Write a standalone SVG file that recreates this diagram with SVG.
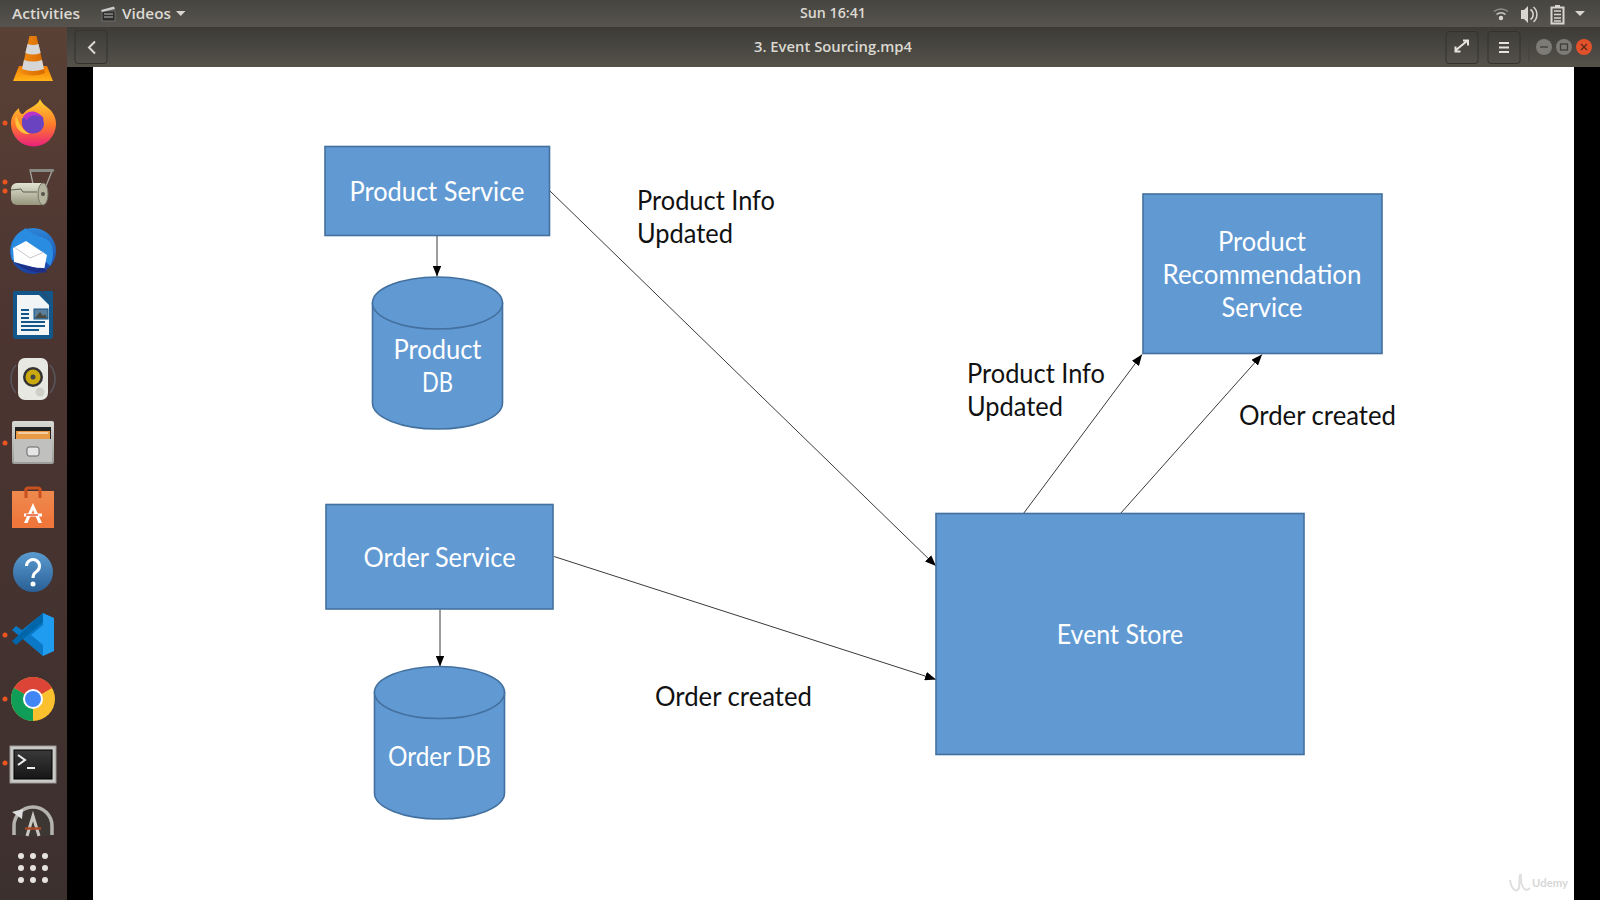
<svg xmlns="http://www.w3.org/2000/svg" width="1600" height="900" viewBox="0 0 1600 900">
<defs>
<style>
.box{fill:#6199d3;stroke:#43719f;stroke-width:1.600}
.in{font-family:Lato,"Liberation Sans",sans-serif;font-size:27px;fill:#fff;text-anchor:middle}
.lbl{font-family:Lato,"Liberation Sans",sans-serif;font-size:27px;fill:#111}
.c{fill:none;stroke:#3a3a3a;stroke-width:1}
.ui{font-family:"Open Sans","Liberation Sans",sans-serif;font-size:14px;font-weight:600;fill:#dcd9d2}
.btn{fill:none;stroke:#33322e;stroke-width:1}
.dot{fill:#e95420}
.g{fill:#e6e3dc}
</style>
<marker id="ah" markerUnits="userSpaceOnUse" viewBox="0 0 10 8" refX="10" refY="4" markerWidth="11" markerHeight="8.800" orient="auto"><path d="M0 0L10 4L0 8z" fill="#000"/></marker>
<linearGradient id="top" x1="0" y1="0" x2="0" y2="1"><stop offset="0" stop-color="#46453f"/><stop offset="1" stop-color="#575450"/></linearGradient>
<linearGradient id="tb" x1="0" y1="0" x2="0" y2="1"><stop offset="0" stop-color="#3c3b37"/><stop offset="1" stop-color="#55524b"/></linearGradient>
<linearGradient id="dock" x1="0" y1="0" x2="0" y2="1"><stop offset="0" stop-color="#5a4136"/><stop offset=".35" stop-color="#4c3531"/><stop offset="1" stop-color="#3c302e"/></linearGradient>
<linearGradient id="cone" x1="0" y1="0" x2="1" y2="0"><stop offset="0" stop-color="#ef8a12"/><stop offset="1" stop-color="#d96a00"/></linearGradient>
<linearGradient id="base" x1="0" y1="0" x2="0" y2="1"><stop offset="0" stop-color="#f47c00"/><stop offset="1" stop-color="#ffb31a"/></linearGradient>
<linearGradient id="fx" x1="0" y1="0" x2="0" y2="1"><stop offset="0" stop-color="#ffd22e"/><stop offset=".55" stop-color="#ff7a2a"/><stop offset="1" stop-color="#ea1f7d"/></linearGradient>
<linearGradient id="tbd" x1="0" y1="0" x2="0" y2="1"><stop offset="0" stop-color="#2b86d8"/><stop offset="1" stop-color="#1c3f9e"/></linearGradient>
<linearGradient id="metal" x1="0" y1="0" x2="0" y2="1"><stop offset="0" stop-color="#d8d8d4"/><stop offset="1" stop-color="#9b9b97"/></linearGradient>
<linearGradient id="roll" x1="0" y1="0" x2="0" y2="1"><stop offset="0" stop-color="#e4e4d4"/><stop offset="1" stop-color="#96967e"/></linearGradient>
<linearGradient id="bag" x1="0" y1="0" x2="0" y2="1"><stop offset="0" stop-color="#ee8a4e"/><stop offset="1" stop-color="#f0743a"/></linearGradient>
<linearGradient id="help" x1="0" y1="0" x2="0" y2="1"><stop offset="0" stop-color="#5a9bd0"/><stop offset="1" stop-color="#2a6096"/></linearGradient>
<linearGradient id="term" x1="0" y1="0" x2="0" y2="1"><stop offset="0" stop-color="#3a3a3a"/><stop offset="1" stop-color="#161616"/></linearGradient>
</defs>

<rect width="1600" height="900" fill="#000"/>
<rect x="93" y="67" width="1481" height="833" fill="#fff"/>

<g id="top-bar">
<rect width="1600" height="27" fill="url(#top)"/>
<text class="ui" x="12" y="19" textLength="68" lengthAdjust="spacingAndGlyphs">Activities</text>
<g id="clapper"><rect x="102" y="11" width="13" height="10" fill="#2e2e2c" stroke="#888" stroke-width=".6"/><path d="M101 10L114 6.500L115 9L102 12z" fill="#ccc"/><path d="M104 14h9M104 17h9" stroke="#bbb" stroke-width="1"/></g>
<text class="ui" x="122" y="19" textLength="49" lengthAdjust="spacingAndGlyphs">Videos</text>
<path d="M176 11h9.500l-4.750 5z" fill="#d8d5ce"/>
<text class="ui" x="833" y="18" text-anchor="middle" textLength="66" lengthAdjust="spacingAndGlyphs">Sun 16:41</text>
<g id="wifi" fill="none" stroke="#c9c6bf" stroke-width="1.600"><path d="M1494 11.500a11 11 0 0 1 14 0" opacity=".55"/><path d="M1496.500 14.500a7 7 0 0 1 9 0"/></g><circle cx="1501" cy="18" r="2.200" fill="#d8d5ce"/>
<g id="volume"><path d="M1521 10h3l4-4v17l-4-4h-3z" fill="#d8d5ce"/><path d="M1530.500 9.500a6 6 0 0 1 0 10M1533.500 7a10 10 0 0 1 0 15" fill="none" stroke="#d8d5ce" stroke-width="1.500"/></g>
<g id="battery"><rect x="1551.500" y="7.500" width="12" height="16" fill="none" stroke="#d8d5ce" stroke-width="2"/><rect x="1555" y="5" width="5" height="2.500" fill="#d8d5ce"/><path d="M1554 11h7M1554 14.500h7M1554 18h7M1554 21h7" stroke="#d8d5ce" stroke-width="1.500"/></g>
<path d="M1575 11h10l-5 5z" fill="#d8d5ce"/>
</g>

<g id="title-bar">
<rect x="67" y="27" width="1533" height="40" fill="url(#tb)"/>
<rect class="btn" x="75" y="30.500" width="32" height="33" rx="3"/>
<path d="M95 41.500L89 47.500L95 53.500" fill="none" stroke="#dcd9d2" stroke-width="2"/>
<text class="ui" x="833" y="52" text-anchor="middle" textLength="158" lengthAdjust="spacingAndGlyphs">3. Event Sourcing.mp4</text>
<rect class="btn" x="1446" y="31.500" width="32" height="32" rx="3"/>
<path d="M1456 50L1467 41M1463 40.500h5v5M1455.500 46.500v5h5" fill="none" stroke="#e6e3dc" stroke-width="2"/>
<rect class="btn" x="1488" y="31.500" width="32" height="32" rx="3"/>
<path class="g" d="M1499 42h10v2h-10zM1499 46.500h10v2h-10zM1499 51h10v2h-10z"/>
<path d="M1529 33v28" stroke="#45433e" stroke-width="1"/>
<circle cx="1544" cy="47" r="8" fill="#7d7b75"/><path d="M1540 47h8" stroke="#3f3e3a" stroke-width="1.300"/>
<circle cx="1564" cy="47" r="8" fill="#7d7b75"/><rect x="1560.500" y="44" width="7" height="6" fill="none" stroke="#3f3e3a" stroke-width="1.300"/>
<circle cx="1584" cy="47" r="8" fill="#e2512a"/><path d="M1581 44l6 6M1587 44l-6 6" stroke="#5a2a18" stroke-width="1.300"/>
</g>

<g id="dock">
<rect y="27" width="67" height="873" fill="url(#dock)"/>
<g id="app-vlc"><path d="M13 81L19 66H47L53 81z" fill="url(#base)"/><path d="M29.500 36h7L45 73q-12 5-24 0z" fill="url(#cone)"/><path d="M27.500 44q5.500 2 11 0l2.200 9q-7.700 3-15.400 0zM24 60q9 3 18 0l2 9q-11 4-22 0z" fill="#d6d6d6"/></g>
<g id="app-firefox"><path d="M40 99C42 105 50 108 52 112C55 116 56 120 56 124A22 22 0 1 1 11 124C11 118 13 113 19 108C19 112 21 114 23 114C27 108 38 106 40 99z" fill="url(#fx)"/><path d="M22 119C27 112 36 111 43 117L44 124A11 10.500 0 0 1 22 122z" fill="#6a43c0"/><path d="M23 117C28 109 38 110 43 118C38 114 30 114 27 120z" fill="#b833c8"/><path d="M16 116C20 124 22 130 30 134C20 135 13 126 16 116z" fill="#ffc23a"/></g>
<circle class="dot" cx="5" cy="123" r="2.500"/>
<g id="app-archive"><path d="M33 184L30 170L52 171L46 186" fill="none" stroke="#a5a5a0" stroke-width="1.300"/><rect x="30" y="169" width="24" height="3" rx="1" fill="#8a8a85"/><rect x="11" y="183" width="36" height="22" rx="6" fill="url(#roll)"/><path d="M11 190l10-1 2 3h14" fill="none" stroke="#5f5f50" stroke-width="1"/><ellipse cx="43" cy="194" rx="5" ry="11" fill="#b5b59f" stroke="#77776a"/><circle cx="43" cy="194" r="2" fill="#55554a"/></g>
<circle class="dot" cx="5" cy="182" r="2.500"/><circle class="dot" cx="5" cy="191" r="2.500"/>
<g id="app-thunderbird"><circle cx="33" cy="251" r="23" fill="url(#tbd)"/><path d="M26 228C30 236 46 236 50 242C54 248 54 260 50 266C46 260 40 260 33 258L12 260C9 250 11 236 26 228z" fill="#2a8ce0"/><path d="M13 248L26 241L47 255L44 270L14 262z" fill="#fff"/><path d="M14 247L30 258L44 252" fill="none" stroke="#c8c8d0" stroke-width="1"/><path d="M14 262C24 270 36 274 47 272L44 268C34 268 24 266 14 262z" fill="#1e2f88"/></g>
<g id="app-writer"><path d="M15 291H41L53 303V336a3 3 0 0 1-3 3H16a3 3 0 0 1-3-3V293a2 2 0 0 1 2-2z" fill="#13578a"/><path d="M17 295H39L49 305V335H17z" fill="#f2f5f6"/><path d="M42 291h11v12z" fill="#13578a"/><rect x="34" y="309" width="14" height="10" fill="#5c7f9c" stroke="#13578a"/><path d="M35 318L40 312L43 316L45 314L47 318z" fill="#4a4a40"/><path d="M21 310h8M21 314h8M21 318h8M21 322h24M21 326h24M21 330h18" stroke="#13578a" stroke-width="2"/></g>
<g id="app-rhythmbox"><path d="M16 365a22 22 0 0 0 0 28M50 365a22 22 0 0 1 0 28" fill="none" stroke="#66788a" stroke-width="1.500" opacity=".5"/><rect x="18" y="358" width="30" height="42" rx="7" fill="#e8e8e2"/><circle cx="33" cy="377" r="10" fill="#333"/><circle cx="33" cy="377" r="7.500" fill="#c9a90f"/><circle cx="33" cy="377" r="2.500" fill="#444"/><circle cx="40" cy="392" r="4.500" fill="#cfcfc8"/></g>
<g id="app-files"><rect x="12" y="421" width="42" height="43" rx="2" fill="url(#metal)"/><rect x="15" y="427" width="36" height="12" fill="#222"/><rect x="16" y="431" width="34" height="8" fill="#e89a45"/><path d="M18 433h30" stroke="#fff" stroke-width="1"/><rect x="14" y="439" width="38" height="23" fill="#c0c0be"/><rect x="27" y="447" width="12" height="9" rx="2" fill="#e6e6e6" stroke="#666"/></g>
<circle class="dot" cx="5" cy="443" r="2.500"/>
<g id="app-software"><rect x="12" y="491" width="42" height="37" fill="url(#bag)"/><rect x="12" y="518" width="42" height="10" fill="#f0773c"/><path d="M26 498v-7a2 2 0 0 1 2-3h10a2 2 0 0 1 2 3v7" fill="none" stroke="#c9501f" stroke-width="3"/><path d="M24 523L33 503L42 523h-3.500L33 510L27.500 523z" fill="#fff"/><path d="M24 515h18" stroke="#fff" stroke-width="3"/><path d="M26 515h12" stroke="#e8562a" stroke-width="1.500"/></g>
<g id="app-help"><circle cx="33" cy="572" r="20" fill="url(#help)"/><path d="M26.500 566a6.500 6.500 0 1 1 10 5.500C34 573 33 575 33 578" fill="none" stroke="#fff" stroke-width="3"/><circle cx="33" cy="584" r="2.500" fill="#fff"/></g>
<g id="app-vscode"><path d="M43 613L54 618V651L43 656L22 636z" fill="#1f9cf0"/><path d="M43 613V625L31 635L43 645V656L12 630L16 626L22 630z" fill="#0a78c4"/><path d="M12 641L16 645L43 622V613z" fill="#0065a9"/></g>
<circle class="dot" cx="5" cy="635" r="2.500"/>
<g id="app-chrome"><circle cx="33" cy="699" r="22" fill="#fbc02d"/><path d="M33 699L14 688A22 22 0 0 1 52 688z" fill="#db4437"/><path d="M33 699L14 688A22 22 0 0 0 33 721z" fill="#0f9d58"/><circle cx="33" cy="699" r="10" fill="#fff"/><circle cx="33" cy="699" r="8" fill="#4285f4"/></g>
<circle class="dot" cx="5" cy="699" r="2.500"/>
<g id="app-terminal"><rect x="10" y="746" width="46" height="37" fill="#c9c9c5" stroke="#999"/><rect x="14" y="750" width="38" height="29" fill="url(#term)" stroke="#000"/><path d="M18 755L25 760L18 765" fill="none" stroke="#eee" stroke-width="2"/><path d="M27 768h8" stroke="#eee" stroke-width="2"/></g>
<circle class="dot" cx="5" cy="763" r="2.500"/>
<g id="app-updater"><path d="M14 836V826A19 19 0 0 1 52 826V836z" fill="#3d3734"/><path d="M14 835V826A19 19 0 0 1 52 826V835" fill="none" stroke="#b5b3ae" stroke-width="3.500"/><path d="M12 812l11-3-1 10z" fill="#ddd"/><path d="M27 836L33 816L39 836" fill="none" stroke="#c9c7c2" stroke-width="3"/><path d="M25 828.500h16" stroke="#a84a28" stroke-width="2.500"/></g>
<g id="show-apps" class="g"><circle cx="21" cy="856" r="3"/><circle cx="33" cy="856" r="3"/><circle cx="45" cy="856" r="3"/><circle cx="21" cy="868" r="3"/><circle cx="33" cy="868" r="3"/><circle cx="45" cy="868" r="3"/><circle cx="21" cy="880" r="3"/><circle cx="33" cy="880" r="3"/><circle cx="45" cy="880" r="3"/></g>
</g>

<g id="connectors">
<path class="c" marker-end="url(#ah)" d="M437 236V276.500"/>
<path class="c" marker-end="url(#ah)" d="M440 609.500V666.500"/>
<path class="c" marker-end="url(#ah)" d="M550 191L936 566"/>
<path class="c" marker-end="url(#ah)" d="M554 556.500L936 679.500"/>
<path class="c" marker-end="url(#ah)" d="M1023.500 513.500L1142 354.500"/>
<path class="c" marker-end="url(#ah)" d="M1120.500 513.500L1262 354.500"/>
</g>

<g id="product-service"><rect class="box" x="325" y="146.500" width="224.500" height="89"/><text class="in" x="437" y="201" textLength="175" lengthAdjust="spacingAndGlyphs">Product Service</text></g>
<g id="product-db"><path class="box" d="M372.500 303V403A65 26 0 0 0 502.500 403V303z"/><ellipse class="box" cx="437.500" cy="303" rx="65" ry="26"/><text class="in" x="437.500" y="359" textLength="88" lengthAdjust="spacingAndGlyphs">Product</text><text class="in" x="437.500" y="392" textLength="31" lengthAdjust="spacingAndGlyphs">DB</text></g>
<g id="order-service"><rect class="box" x="326" y="504.500" width="227" height="104.500"/><text class="in" x="439.500" y="567" textLength="152" lengthAdjust="spacingAndGlyphs">Order Service</text></g>
<g id="order-db"><path class="box" d="M374.500 692.500V793A65 26 0 0 0 504.500 793V692.500z"/><ellipse class="box" cx="439.500" cy="692.500" rx="65" ry="26"/><text class="in" x="439.500" y="766" textLength="103" lengthAdjust="spacingAndGlyphs">Order DB</text></g>
<g id="event-store"><rect class="box" x="936" y="513.500" width="368" height="241"/><text class="in" x="1120" y="644" textLength="126.500" lengthAdjust="spacingAndGlyphs">Event Store</text></g>
<g id="recommendation-service"><rect class="box" x="1143" y="194" width="239" height="159.500"/><text class="in" x="1262" y="251" textLength="88" lengthAdjust="spacingAndGlyphs">Product</text><text class="in" x="1262" y="284" textLength="199" lengthAdjust="spacingAndGlyphs">Recommendation</text><text class="in" x="1262" y="317" textLength="81" lengthAdjust="spacingAndGlyphs">Service</text></g>

<g id="labels">
<text class="lbl" x="637" y="210" textLength="138" lengthAdjust="spacingAndGlyphs">Product Info</text>
<text class="lbl" x="637" y="243" textLength="96" lengthAdjust="spacingAndGlyphs">Updated</text>
<text class="lbl" x="967" y="383" textLength="138" lengthAdjust="spacingAndGlyphs">Product Info</text>
<text class="lbl" x="967" y="416" textLength="96" lengthAdjust="spacingAndGlyphs">Updated</text>
<text class="lbl" x="1239" y="425" textLength="157" lengthAdjust="spacingAndGlyphs">Order created</text>
<text class="lbl" x="655" y="706" textLength="157" lengthAdjust="spacingAndGlyphs">Order created</text>
</g>

<g id="watermark" opacity=".55"><path d="M1510 880C1511 888 1516 894 1519 888C1520 878 1519 874 1521 875C1520 884 1524 894 1530 888" fill="none" stroke="#c4c4c4" stroke-width="2"/><text x="1532" y="887" font-family="Lato,'Liberation Sans',sans-serif" font-size="11" font-weight="700" fill="#b5b5b5" textLength="36" lengthAdjust="spacingAndGlyphs">Udemy</text></g>
</svg>
